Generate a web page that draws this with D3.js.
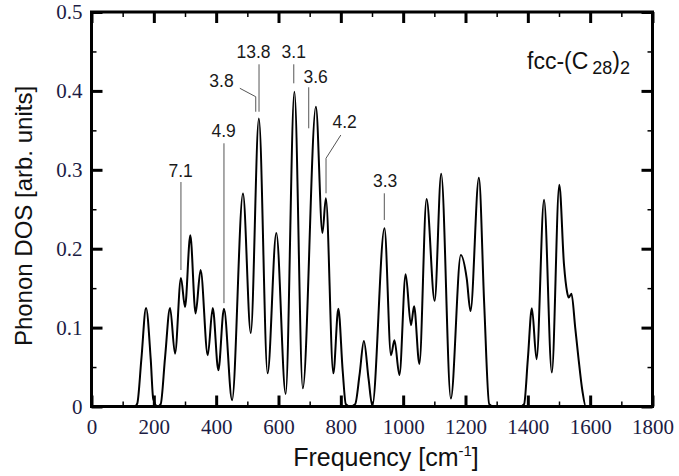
<!DOCTYPE html>
<html>
<head>
<meta charset="utf-8">
<script src="https://cdn.jsdelivr.net/npm/d3@7/dist/d3.min.js"></script>
<style>
  html, body { margin: 0; padding: 0; background: #fff; }
  svg { display: block; }
</style>
</head>
<body>
<svg id="chart" width="679" height="476"></svg>
<script>
// Phonon density of states of fcc-(C28)2, sampled along the curve
const frequency = [
  140, 147, 160, 175, 190, 198, 212, 222, 236, 252,
  268, 287, 300, 317, 334, 350, 373, 389, 407, 425,
  451, 486, 511, 537, 565, 593, 623, 651, 678, 720,
  741, 752, 776, 792, 806, 816, 830, 846, 860, 874,
  889, 901, 940, 961, 972, 988, 1008, 1025, 1035, 1052,
  1075, 1101, 1122, 1153, 1185, 1204, 1216, 1243, 1260, 1276,
  1290, 1375, 1388, 1400, 1413, 1428, 1452, 1477, 1501, 1516,
  1526, 1531, 1540, 1552, 1562, 1575, 1586, 1600
];
const dos = [
  0.000, 0.004, 0.060, 0.125, 0.060, 0.010, 0.000, 0.003, 0.062, 0.125,
  0.067, 0.163, 0.126, 0.217, 0.118, 0.173, 0.065, 0.125, 0.046, 0.124,
  0.008, 0.270, 0.093, 0.365, 0.042, 0.220, 0.016, 0.399, 0.023, 0.380,
  0.220, 0.264, 0.042, 0.124, 0.045, 0.003, 0.000, 0.003, 0.040, 0.083,
  0.035, 0.001, 0.226, 0.065, 0.084, 0.040, 0.1675, 0.103, 0.127, 0.054,
  0.263, 0.134, 0.295, 0.010, 0.192, 0.162, 0.121, 0.290, 0.130, 0.003,
  0.000, 0.000, 0.003, 0.060, 0.1245, 0.060, 0.262, 0.043, 0.281, 0.180,
  0.145, 0.138, 0.143, 0.100, 0.063, 0.020, 0.000, 0.000
];

// Peak annotations: label text and the frequency each one marks
const peakLabels = ["7.1", "4.9", "3.8", "13.8", "3.1", "3.6", "4.2", "3.3"];
const peakFreqs  = [287, 425, 527, 537, 649, 697, 752, 940];

const xTicks = [0, 200, 400, 600, 800, 1000, 1200, 1400, 1600, 1800];
const yTicks = [0, 0.1, 0.2, 0.3, 0.4, 0.5];

const svg = d3.select("#chart");
const plotLeft = 91.5, plotRight = 652.5, plotTop = 12, plotBottom = 406.5;

const x = d3.scaleLinear().domain([0, 1800]).range([plotLeft, plotRight]);
const y = d3.scaleLinear().domain([0, 0.5]).range([plotBottom, plotTop]);

const points = frequency.map((f, i) => [f, dos[i]]);

// DOS curve
svg.append("path")
  .datum(points)
  .attr("fill", "none")
  .attr("stroke", "#000")
  .attr("stroke-width", 2)
  .attr("stroke-linejoin", "round")
  .attr("d", d3.line().x(d => x(d[0])).y(d => y(d[1])).curve(d3.curveMonotoneX));

// Inward ticks on all four sides
const xMinor = d3.range(100, 1800, 200);
const yMinor = d3.range(0.05, 0.5, 0.1);
const majorLen = 11, minorLen = 5;
const tickFont = "'Liberation Serif', 'Times New Roman', serif";
const tickColor = "#1c1c44";

function styleAxis(g, width) {
  g.select(".domain").remove();
  g.selectAll(".tick line").attr("stroke", "#000").attr("stroke-width", width);
  g.selectAll(".tick text")
    .attr("font-family", tickFont)
    .attr("font-size", 21)
    .attr("fill", tickColor);
}

svg.append("g").attr("transform", `translate(0,${plotBottom})`)
  .call(d3.axisBottom(x).tickValues(xTicks).tickSize(-majorLen).tickPadding(12).tickFormat(d3.format("d")))
  .call(g => styleAxis(g, 3))
  .call(g => g.selectAll(".tick text").attr("dy", "0.72em"));
svg.append("g").attr("transform", `translate(0,${plotBottom})`)
  .call(d3.axisBottom(x).tickValues(xMinor).tickSize(-minorLen).tickFormat(""))
  .call(g => styleAxis(g, 1.5));
svg.append("g").attr("transform", `translate(0,${plotTop})`)
  .call(d3.axisTop(x).tickValues(xTicks).tickSize(-majorLen).tickFormat(""))
  .call(g => styleAxis(g, 3));
svg.append("g").attr("transform", `translate(0,${plotTop})`)
  .call(d3.axisTop(x).tickValues(xMinor).tickSize(-minorLen).tickFormat(""))
  .call(g => styleAxis(g, 1.5));

svg.append("g").attr("transform", `translate(${plotLeft},0)`)
  .call(d3.axisLeft(y).tickValues(yTicks).tickSize(-majorLen).tickPadding(9)
    .tickFormat(d => d === 0 ? "0" : d3.format(".1f")(d)))
  .call(g => styleAxis(g, 3));
svg.append("g").attr("transform", `translate(${plotLeft},0)`)
  .call(d3.axisLeft(y).tickValues(yMinor).tickSize(-minorLen).tickFormat(""))
  .call(g => styleAxis(g, 1.5));
svg.append("g").attr("transform", `translate(${plotRight},0)`)
  .call(d3.axisRight(y).tickValues(yTicks).tickSize(-majorLen).tickFormat(""))
  .call(g => styleAxis(g, 3));
svg.append("g").attr("transform", `translate(${plotRight},0)`)
  .call(d3.axisRight(y).tickValues(yMinor).tickSize(-minorLen).tickFormat(""))
  .call(g => styleAxis(g, 1.5));

// Plot frame
svg.append("rect")
  .attr("x", plotLeft).attr("y", plotTop)
  .attr("width", plotRight - plotLeft).attr("height", plotBottom - plotTop)
  .attr("fill", "none").attr("stroke", "#000").attr("stroke-width", 3);

// Peak labels with leader lines (positions in data units)
const labelLayout = [
  { tx: 286, ty: 0.2905, path: [[287, 0.2845], [287, 0.173]] },
  { tx: 424, ty: 0.342,  path: [[425, 0.3336], [425, 0.131]] },
  { tx: 417, ty: 0.4046, path: [[476, 0.4033], [527, 0.3926], [527, 0.3736]] },
  { tx: 520, ty: 0.4413, path: [[537.5, 0.4337], [537.5, 0.3736]] },
  { tx: 649, ty: 0.4413, path: [[649, 0.4337], [649, 0.4096]] },
  { tx: 719, ty: 0.4104, path: [[697, 0.4046], [697, 0.3526]] },
  { tx: 812, ty: 0.3526, path: [[800, 0.3441], [752.5, 0.3146], [752.5, 0.2702]] },
  { tx: 942, ty: 0.2786, path: [[939.5, 0.2702], [939.5, 0.2364]] }
];
const ann = svg.append("g");
peakLabels.forEach((label, i) => {
  const L = labelLayout[i];
  ann.append("path")
    .attr("d", d3.line().x(d => x(d[0])).y(d => y(d[1]))(L.path))
    .attr("fill", "none").attr("stroke", "#555").attr("stroke-width", 1);
  ann.append("text")
    .attr("x", x(L.tx)).attr("y", y(L.ty))
    .attr("text-anchor", "middle")
    .attr("font-family", "'Liberation Sans', Arial, sans-serif")
    .attr("font-size", 17.5)
    .attr("fill", "#1a1a1a")
    .text(label);
});

// Structure label
const title = svg.append("text")
  .attr("x", 527).attr("y", 69)
  .attr("font-family", "'Liberation Sans', Arial, sans-serif")
  .attr("font-size", 23)
  .attr("fill", "#111");
title.append("tspan").text("fcc-(C");
title.append("tspan").attr("dx", 4).attr("dy", 5).attr("font-size", 18).text("28");
title.append("tspan").attr("dy", -5).text(")");
title.append("tspan").attr("dy", 5).attr("font-size", 18).text("2");

// Axis titles
svg.append("text")
  .attr("transform", "translate(32,216) rotate(-90)")
  .attr("text-anchor", "middle")
  .attr("font-family", "'Liberation Sans', Arial, sans-serif")
  .attr("font-size", 24)
  .attr("fill", "#111")
  .text("Phonon DOS [arb. units]");

const xt = svg.append("text")
  .attr("x", 386).attr("y", 466)
  .attr("text-anchor", "middle")
  .attr("font-family", "'Liberation Sans', Arial, sans-serif")
  .attr("font-size", 25)
  .attr("fill", "#111");
xt.append("tspan").text("Frequency [cm");
xt.append("tspan").attr("dy", -10).attr("font-size", 15).text("-1");
xt.append("tspan").attr("dy", 10).text("]");
</script>
</body>
</html>
